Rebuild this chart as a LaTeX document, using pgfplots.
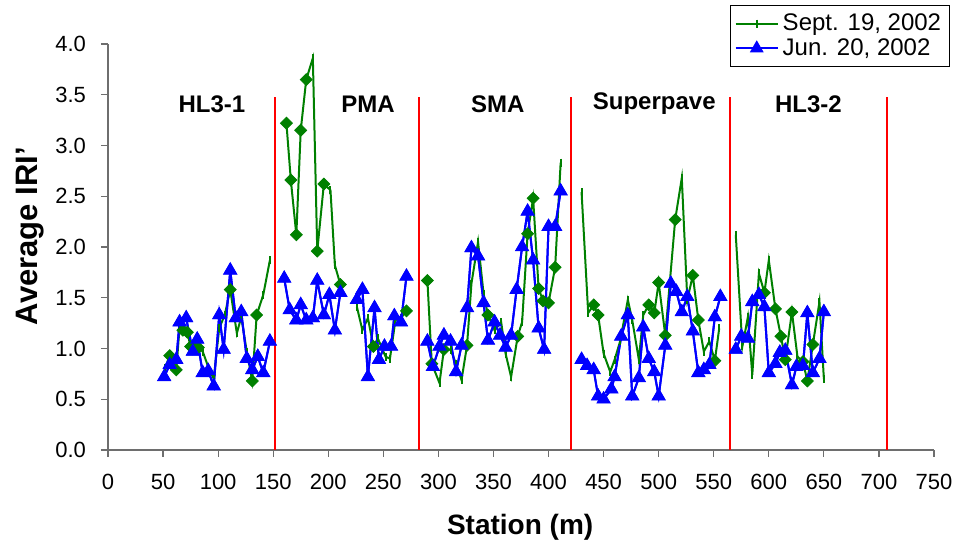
\documentclass[border=0pt]{standalone}
\usepackage{fontspec}
\setmainfont{Liberation Sans}
\usepackage{pgfplots}
\pgfplotsset{compat=1.18}
\usepackage{pgfplotstable}
\usetikzlibrary{calc}
\definecolor{xlgreen}{RGB}{0,128,0}
\definecolor{xlblue}{RGB}{0,0,255}
\definecolor{xlred}{RGB}{255,0,0}
\definecolor{axgray}{RGB}{110,110,110}

\pgfplotstableread{
x y
51 0.72
56 0.84
62 0.89
65 1.26
71 1.30
77 0.97
81 1.09
86 0.76
91 0.78
96 0.63
101 1.33
105 0.99
111 1.77
116 1.30
121 1.36
126 0.90
131 0.79
136 0.92
141 0.76
147 1.07
nan nan
160 1.69
165 1.38
171 1.28
175 1.43
180 1.28
186 1.30
190 1.67
196 1.33
201 1.53
206 1.18
211 1.55
nan nan
226 1.48
231 1.58
236 0.72
242 1.40
246 0.89
251 1.02
257 1.02
260 1.32
266 1.26
271 1.71
nan nan
290 1.07
295 0.82
301 1.02
305 1.13
311 1.07
316 0.77
321 1.03
326 1.40
330 1.99
336 1.91
341 1.45
345 1.08
351 1.26
356 1.13
361 1.01
366 1.13
371 1.58
376 2.00
381 2.35
386 1.87
391 1.20
396 0.99
400 2.20
406 2.20
411 2.55
nan nan
430 0.89
435 0.83
441 0.79
445 0.53
450 0.50
457 0.60
460 0.72
466 1.12
472 1.33
476 0.53
482 0.71
486 1.21
491 0.90
496 0.77
500 0.53
506 1.03
511 1.64
516 1.56
521 1.36
526 1.51
531 1.17
536 0.76
541 0.79
546 0.84
551 1.31
556 1.51
nan nan
570 0.99
575 1.12
581 1.10
585 1.46
591 1.53
596 1.41
600 0.76
606 0.85
610 0.96
615 0.98
621 0.64
625 0.82
631 0.83
635 1.35
640 0.76
646 0.90
650 1.36
}\bluedata

\pgfplotstableread{
x y
52 0.81
56 0.93
62 0.79
65 1.21
68 1.18
72 1.16
75 1.02
79 1.05
82 1.01
86 0.97
91 0.82
96 0.70
101 1.20
106 1.33
111 1.58
117 1.15
121 1.31
126 0.97
131 0.68
135 1.33
141 1.53
147 1.87
nan nan
162 3.22
166 2.66
171 2.12
175 3.15
180 3.65
186 3.86
190 1.96
196 2.62
202 2.56
206 1.82
211 1.63
nan nan
226 1.41
231 1.18
236 1.30
241 1.02
245 1.10
252 0.92
256 0.90
261 1.28
266 1.30
271 1.37
nan nan
290 1.67
294 0.85
301 0.66
305 0.99
311 0.99
316 0.85
321 0.69
326 1.03
330 1.64
336 2.05
341 1.54
345 1.33
351 1.18
357 1.26
361 0.95
366 0.72
372 1.12
376 1.26
381 2.13
386 2.48
391 1.59
395 1.47
400 1.45
406 1.80
411 2.83
nan nan
430 2.54
436 1.35
441 1.43
445 1.33
450 0.95
456 0.77
460 0.89
465 1.07
472 1.48
476 1.28
482 0.89
486 1.33
491 1.43
496 1.35
500 1.65
506 1.13
515 2.27
521 2.68
526 1.48
531 1.72
536 1.28
541 0.97
546 1.07
551 0.88
555 1.20
nan nan
570 2.12
576 1.02
581 1.31
585 0.74
591 1.74
596 1.55
600 1.87
606 1.39
611 1.12
615 0.89
621 1.36
626 0.92
631 0.87
635 0.68
640 1.04
646 1.46
650 0.70
}\greendata

\pgfplotstableread{
x y
56 0.93
62 0.79
68 1.18
72 1.16
75 1.02
82 1.01
111 1.58
131 0.68
135 1.33
162 3.22
166 2.66
171 2.12
175 3.15
180 3.65
190 1.96
196 2.62
211 1.63
241 1.02
271 1.37
290 1.67
294 0.85
305 0.99
326 1.03
345 1.33
372 1.12
381 2.13
386 2.48
391 1.59
395 1.47
400 1.45
406 1.80
441 1.43
445 1.33
491 1.43
496 1.35
500 1.65
506 1.13
515 2.27
531 1.72
536 1.28
551 0.88
596 1.55
606 1.39
611 1.12
615 0.89
621 1.36
631 0.87
635 0.68
640 1.04
}\diamdata

\pgfplotstableread{
x y
151.6 0
151.6 3.48
nan nan
282.4 0
282.4 3.48
nan nan
420.4 0
420.4 3.48
nan nan
564.8 0
564.8 3.48
nan nan
707.3 0
707.3 3.48
}\reddata

\begin{document}
\begin{tikzpicture}
\begin{axis}[
  scale only axis, width=413pt, height=203pt,
  xmin=0, xmax=750, ymin=0, ymax=4,
  axis x line*=bottom, axis y line*=left,
  xtick={0,50,...,750}, ytick={0,0.5,...,4},
  tick align=outside, major tick length=3.5pt,
  tick style={axgray, line width=0.6pt},
  axis line style={axgray, line width=0.6pt},
  /pgf/number format/assume math mode=true,
  yticklabel style={/pgf/number format/fixed, /pgf/number format/fixed zerofill, /pgf/number format/precision=1, xshift=-4pt},
  xticklabel style={/pgf/number format/fixed, /pgf/number format/precision=0, /pgf/number format/1000 sep={}, yshift=-5pt},
  ticklabel style={font=\fontsize{11}{12}\selectfont},
  xlabel={Station (m)}, ylabel={Average IRI'},
  label style={font=\bfseries\fontsize{14}{16}\selectfont},
  ylabel style={font=\bfseries\fontsize{15.5}{17}\selectfont},
  xlabel style={at={(axis description cs:0.499,-0.19)}, anchor=center},
  ylabel style={at={(axis description cs:-0.0944,0.527)}, anchor=center},
  unbounded coords=jump,
  legend style={at={(1.019,1.096)}, anchor=north east, draw=black, line width=0.6pt,
    font=\fontsize{12}{12}\selectfont, row sep=-1.5pt, inner sep=2pt,
    cells={anchor=west}},
  legend image code/.code={\draw[mark repeat=2,mark phase=2,#1] plot coordinates {(0pt,0pt) (10.5pt,0pt) (21pt,0pt)};},
]
\coordinate (bl) at (rel axis cs:0,0);
\coordinate (tr) at (rel axis cs:1,1);
\addplot[draw=xlred, line width=0.9pt, forget plot] table {\reddata};
\addplot[color=xlgreen, line width=1pt, mark=|, mark size=2pt, mark options={solid, line width=1pt}] table {\greendata};
\addlegendentry{Sept. 19, 2002}
\addplot[color=xlblue, line width=1pt, mark=triangle*, mark size=3pt, mark options={solid}] table {\bluedata};
\addlegendentry{Jun. 20, 2002}
\addplot[only marks, color=xlgreen, mark=square*, mark size=2.1pt, mark options={rotate=45}, forget plot] table {\diamdata};
\addplot[color=xlblue, line width=1pt, mark=triangle*, mark size=3.2pt, forget plot] table {\bluedata};
\node[font=\bfseries\fontsize{12}{14}\selectfont] at (axis cs:94.4,3.41) {HL3-1};
\node[font=\bfseries\fontsize{12}{14}\selectfont] at (axis cs:236,3.41) {PMA};
\node[font=\bfseries\fontsize{12}{14}\selectfont] at (axis cs:354,3.41) {SMA};
\node[font=\bfseries\fontsize{12}{14}\selectfont] at (axis cs:496,3.41) {Superpave};
\node[font=\bfseries\fontsize{12}{14}\selectfont] at (axis cs:636,3.41) {HL3-2};
\end{axis}
\pgfresetboundingbox
\path ($(bl)+(-54pt,-47pt)$) rectangle ($(tr)+(10pt,22pt)$);
\end{tikzpicture}
\end{document}
